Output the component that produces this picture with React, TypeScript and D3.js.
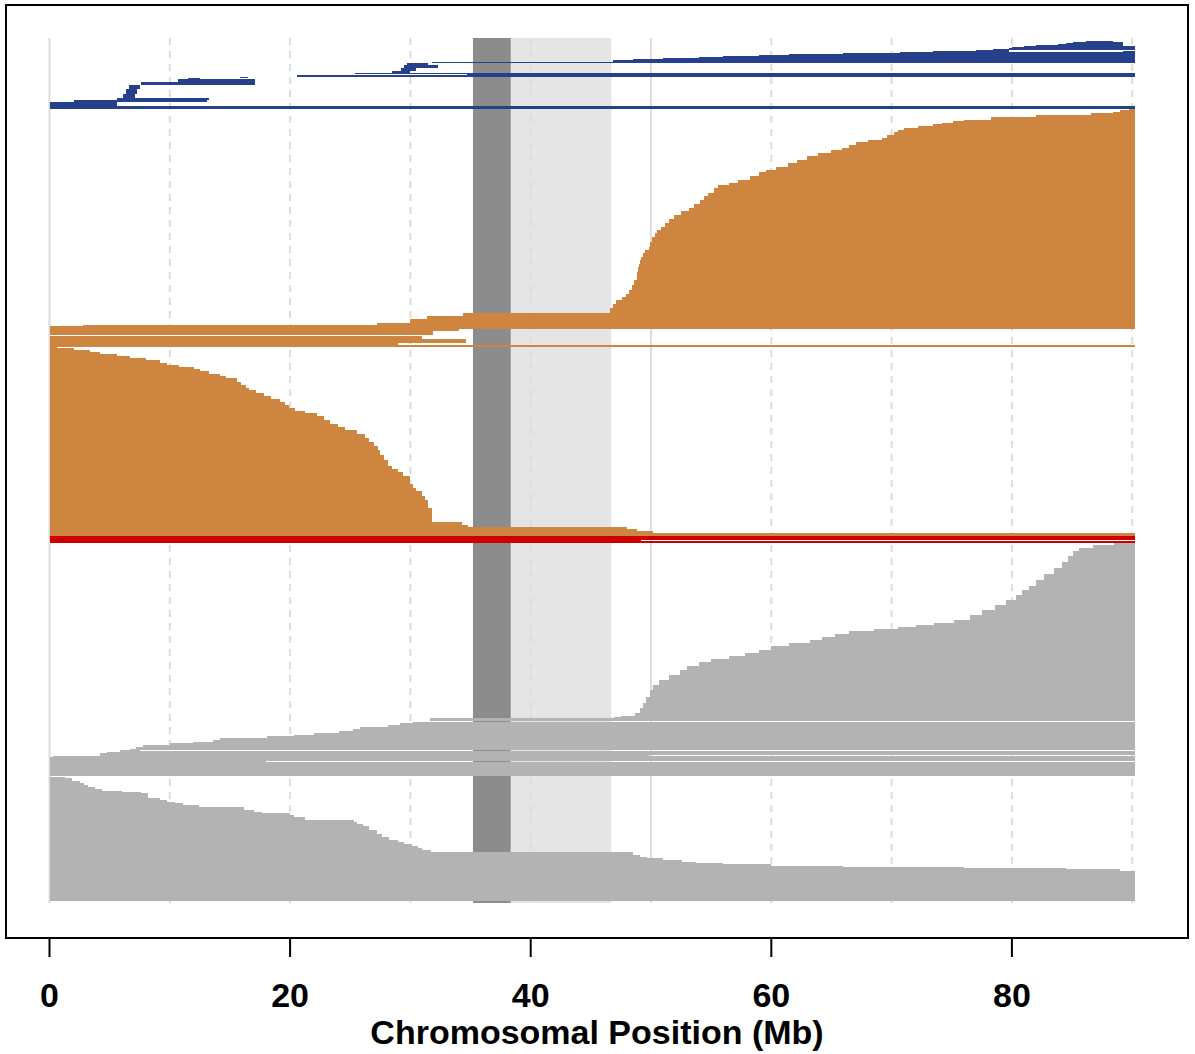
import React from "react";
import * as d3 from "d3";

// ---------- data ----------
const chromEnd = 90.2; // Mb
const xTicks = [0, 20, 40, 60, 80];
const gridMb = [0, 10, 20, 30, 40, 50, 60, 70, 80, 90];
const solidGridMb = [0, 50];
const centromereMb = [35.2, 38.35];
const heterochromatinMb = [38.35, 46.7];
const nRows = 862;

// explicit segments: [firstRow, rowCount, startMb, endMb]
const blueSegments: number[][] = [
  [1, 1, 86.2, 88.4], [2, 1, 85.1, 89.2], [3, 1, 84.5, 89.2], [4, 1, 83.8, 89.2], [5, 1, 82.0, 89.2],
  [6, 1, 81.0, 90.2], [7, 1, 80.0, 90.2], [8, 1, 79.8, 90.2], [9, 1, 78.4, 90.2], [10, 1, 77.0, 79.8],
  [11, 1, 73.4, 79.8], [11, 1, 89.2, 90.2], [12, 1, 70.7, 90.2], [13, 1, 66.0, 90.2], [14, 1, 61.5, 90.2],
  [15, 1, 59.0, 90.2], [16, 1, 56.0, 90.2], [17, 1, 54.0, 90.2], [18, 1, 51.0, 90.2], [19, 1, 48.5, 90.2],
  [20, 2, 46.8, 90.2], [22, 1, 31.8, 90.2],
  [23, 2, 29.7, 31.5], [25, 3, 29.5, 32.3], [28, 3, 29.2, 30.5], [31, 2, 28.5, 30.0],
  [33, 1, 25.4, 90.2], [34, 1, 34.7, 90.2], [35, 2, 20.6, 90.2],
  [38, 1, 11.5, 12.5], [37, 1, 15.8, 16.5], [39, 3, 10.7, 17.1], [42, 3, 7.6, 17.1],
  [45, 4, 6.6, 7.5], [49, 5, 6.4, 7.3], [54, 4, 6.1, 7.1],
  [58, 2, 5.6, 13.3], [60, 2, 2.0, 13.1], [62, 4, 0, 5.6], [66, 3, 0, 90.2],
];

// right-anchored staircase: [firstRow, startMb] (segment runs to chromosome end)
const orangeUpperSteps: number[][] = [
  [69, 89.7], [70, 89.0], [72, 88.4], [73, 86.6], [75, 82.0], [77, 78.3], [80, 76.0], [81, 75.1],
  [83, 74.2], [84, 73.4], [86, 72.2], [88, 71.0], [90, 70.5], [92, 70.2], [95, 69.6], [98, 69.2],
  [100, 68.0], [102, 67.0], [105, 66.5], [108, 65.9], [110, 65.0], [113, 63.9], [116, 63.0],
  [120, 62.1], [123, 61.4], [127, 60.4], [130, 59.6], [132, 59.0], [136, 58.2], [140, 57.2],
  [143, 56.5], [145, 55.6], [148, 55.2], [153, 54.7], [156, 54.4], [160, 54.1], [164, 53.6],
  [168, 53.2], [171, 52.5], [175, 51.9], [179, 51.5], [183, 51.2], [187, 50.8], [190, 50.5],
  [193, 50.3], [197, 50.1], [202, 49.9], [207, 49.8], [210, 49.5], [213, 49.3], [217, 49.2],
  [220, 49.1], [224, 49.0], [227, 48.9], [232, 48.8], [240, 48.6], [245, 48.4], [250, 48.2],
  [254, 47.9], [257, 47.6], [260, 47.1], [264, 46.8], [268, 46.6], [273, 34.4], [276, 31.4],
  [279, 30.0], [283, 27.2], [285, 2.8], [286, 0],
];
const orangeUpperLastRow = 289;
const orangeMidSegments: number[][] = [
  [289, 2, 0, 34.0], [291, 4, 0, 31.9], [296, 3, 0, 31.0], [299, 4, 0, 34.6], [303, 2, 0, 29.0], [305, 2, 0, 90.2],
];
// left-anchored staircase: [firstRow, endMb] (segment starts at 0)
const orangeLowerSteps: number[][] = [
  [307, 0.6], [308, 2.0], [310, 3.4], [312, 4.2], [314, 5.6], [316, 6.7], [318, 8.0], [320, 9.2],
  [323, 9.8], [325, 10.8], [327, 12.0], [329, 12.5], [331, 13.3], [334, 14.2], [336, 14.7],
  [338, 15.6], [342, 15.9], [345, 16.3], [348, 16.6], [350, 17.2], [353, 17.8], [356, 18.4],
  [359, 19.2], [362, 19.6], [365, 19.9], [368, 20.4], [371, 21.2], [373, 22.2], [376, 22.8],
  [380, 23.3], [384, 24.0], [387, 24.6], [390, 25.6], [394, 26.2], [398, 26.6], [402, 27.0],
  [406, 27.3], [410, 27.5], [415, 27.8], [420, 28.1], [426, 28.5], [429, 29.0], [432, 29.4],
  [436, 30.0], [444, 30.2], [448, 30.5], [451, 31.0], [456, 31.2], [460, 31.5], [468, 31.8],
  [482, 34.3], [485, 34.8], [487, 48.0], [489, 48.8], [491, 50.2], [493, 90.2],
];
const orangeLowerLastRow = 496;

const redSegments: number[][] = [
  [496, 4, 0, 90.2], [500, 1, 0, 49.2], [501, 2, 0, 90.2],
];

const grayUpperSteps: (number | null)[][] = [
  [503, 88.5], [505, 86.7], [508, 85.6], [511, 85.1], [516, 84.7], [522, 84.2], [528, 83.5],
  [534, 82.7], [540, 82.0], [546, 81.4], [550, 80.8], [555, 80.3], [560, 79.5], [565, 78.6],
  [570, 77.5], [575, 76.5], [580, 75.2], [583, 73.5], [585, 72.0], [587, 70.5], [589, 68.5],
  [591, 66.5], [594, 65.3], [597, 64.2], [600, 63.2], [603, 61.5], [606, 60.0], [610, 59.0],
  [613, 57.8], [616, 56.5], [619, 55.0], [622, 54.0], [626, 53.0], [630, 52.4], [635, 51.5],
  [640, 50.7], [645, 50.2], [650, 49.9], [657, 49.6], [663, 49.3], [668, 49.1], [673, 48.7],
  [676, 47.5], [677, 46.9], [678, 31.6], [681, null], [682, 30.2], [683, 29.1], [685, 28.1],
  [687, 25.8], [689, 25.2], [691, 24.1], [693, 22.0], [695, 20.3], [696, 18.1], [698, 14.2],
  [700, 13.6], [702, 11.9], [703, 10.0], [705, 7.8], [707, 7.2], [709, 6.7], [710, null],
  [711, 5.9], [712, 4.8], [713, 4.2], [715, null], [716, 0.3], [717, 0], [721, null], [722, 0],
];
const grayUpperLastRow = 736;
const grayMidSegments: number[][] = [
  [710, 1, 5.9, 7.5], [715, 1, 4.2, 49.8], [721, 1, 0, 18.0],
];
const grayLowerSteps: number[][] = [
  [737, 1.3], [738, 1.9], [741, 2.5], [743, 2.9], [745, 3.2], [747, 3.8], [749, 4.4], [751, 6.0],
  [752, 7.6], [753, 8.2], [758, 9.2], [760, 9.8], [762, 10.4], [763, 11.1], [765, 12.4],
  [767, 16.2], [770, 17.0], [772, 17.7], [773, 20.0], [775, 20.3], [777, 21.2], [780, 25.3],
  [782, 25.6], [784, 26.1], [786, 26.6], [790, 27.2], [794, 27.6], [797, 28.2], [800, 29.0],
  [802, 29.5], [804, 30.1], [806, 30.6], [808, 31.0], [810, 31.7], [812, 48.5], [815, 49.1],
  [817, 49.7], [818, 51.0], [820, 52.6], [822, 53.7], [823, 56.0], [824, 60.0], [826, 66.0],
  [827, 76.0], [828, 84.5], [829, 89.0], [831, 90.2],
];
const grayLowerLastRow = 861;

const colors = {
  blue: "#27408B",
  orange: "#CD853F",
  red: "#CD0000",
  gray: "#B3B3B3",
  centromere: "#8C8C8C",
  hetero: "#E5E5E5",
  grid: "#DCDCDC",
};

// ---------- helpers ----------
function stepsToSegments(steps: (number | null)[][], lastRow: number, anchor: "right" | "left") {
  const segs: number[][] = [];
  steps.forEach((s, i) => {
    const r0 = s[0] as number;
    const r1 = i + 1 < steps.length ? (steps[i + 1][0] as number) : lastRow;
    const v = s[1];
    if (v === null) return;
    if (anchor === "right") segs.push([r0, r1 - r0, v, chromEnd]);
    else segs.push([r0, r1 - r0, 0, v]);
  });
  return segs;
}

export default function App() {
  const W = 1195, H = 1054;
  const x = d3.scaleLinear().domain([0, 90]).range([49.5, 1132.2]);
  const y = d3.scaleLinear().domain([0, nRows]).range([40, 902]);

  const groups = [
    { color: colors.blue, segs: blueSegments },
    { color: colors.orange, segs: stepsToSegments(orangeUpperSteps, orangeUpperLastRow, "right") },
    { color: colors.orange, segs: orangeMidSegments },
    { color: colors.orange, segs: stepsToSegments(orangeLowerSteps, orangeLowerLastRow, "left") },
    { color: colors.red, segs: redSegments },
    { color: colors.gray, segs: stepsToSegments(grayUpperSteps, grayUpperLastRow, "right") },
    { color: colors.gray, segs: grayMidSegments },
    { color: colors.gray, segs: stepsToSegments(grayLowerSteps, grayLowerLastRow, "left") },
  ];

  const bandTop = y(-2), bandBot = y(nRows + 1);
  const font = "'Liberation Sans', Arial, Helvetica, sans-serif";

  return (
    <svg width={W} height={H} style={{ position: "absolute", left: 0, top: 0, background: "#fff" }}>
      <rect x={0} y={0} width={W} height={H} fill="#fff" />
      {/* bands */}
      <rect x={x(centromereMb[0])} y={bandTop} width={x(centromereMb[1]) - x(centromereMb[0])}
        height={bandBot - bandTop} fill={colors.centromere} />
      <rect x={x(heterochromatinMb[0])} y={bandTop} width={x(heterochromatinMb[1]) - x(heterochromatinMb[0])}
        height={bandBot - bandTop} fill={colors.hetero} />
      {/* grid */}
      {gridMb.map((g) => (
        <line key={"g" + g} x1={x(g)} x2={x(g)} y1={bandTop} y2={bandBot} stroke={colors.grid}
          strokeWidth={2} strokeDasharray={solidGridMb.includes(g) ? undefined : "7,6"} />
      ))}
      {/* segments */}
      <g shapeRendering="crispEdges">
        {groups.map((grp, gi) => (
          <g key={gi} fill={grp.color}>
            {grp.segs.map((s, i) => (
              <rect key={i} x={x(s[2])} y={y(s[0])} width={Math.max(0, x(s[3]) - x(s[2]))}
                height={y(s[0] + s[1]) - y(s[0])} />
            ))}
          </g>
        ))}
      </g>
      {/* frame */}
      <rect x={6} y={5} width={1182} height={933} fill="none" stroke="#000" strokeWidth={2} />
      {/* x axis */}
      {xTicks.map((t) => (
        <g key={"t" + t}>
          <line x1={x(t)} x2={x(t)} y1={938} y2={957} stroke="#000" strokeWidth={2} />
          <text x={x(t)} y={1007} textAnchor="middle" fontFamily={font} fontWeight="bold" fontSize={34}>{t}</text>
        </g>
      ))}
      <text x={597} y={1044} textAnchor="middle" fontFamily={font} fontWeight="bold" fontSize={34}>
        Chromosomal Position (Mb)
      </text>
    </svg>
  );
}
